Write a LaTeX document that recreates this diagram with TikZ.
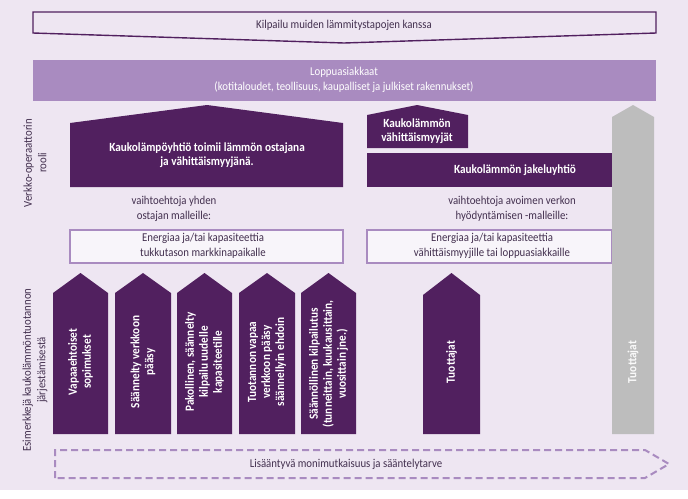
\documentclass[tikz,border=0pt]{standalone}
\usepackage{fontspec}
\setmainfont[FakeStretch=0.9]{Carlito}
\usepackage{xcolor}
\usepackage{tikz}

\definecolor{bgviol}{HTML}{EEE6F2}
\definecolor{dkviol}{HTML}{51205F}
\definecolor{lilac}{HTML}{A98BC0}
\definecolor{txtviol}{HTML}{43304F}
\definecolor{grayarr}{HTML}{BDBDBD}

\begin{document}
\begin{tikzpicture}[x=1pt,y=-1pt,
    lbl/.style={text=txtviol,font=\fontsize{12}{14.5}\selectfont,align=center,inner sep=0pt},
    wlbl/.style={text=white,font=\fontsize{12.5}{14}\selectfont\bfseries,align=center,inner sep=0pt},
    vlbl/.style={wlbl,rotate=90},
    sidelbl/.style={lbl,rotate=90}]
  % Roles of the network operator and ways to organise heat production.

  \useasboundingbox (0,0) rectangle (688,498);
  \fill[bgviol] (0,0) rectangle (688,490);

  % competition banner and end customers
  \draw[dkviol,line width=1.4pt,fill=bgviol] (33,12) -- (656,12) -- (656,33)
    -- (344,43) -- (33,33) -- cycle;
  \node[lbl] (kilpailu) at (344,25) {Kilpailu muiden lämmitystapojen kanssa};

  \fill[lilac] (33,60) rectangle (656,101);
  \node[lbl,text=white] (loppu) at (344,80)
    {Loppuasiakkaat\\(kotitaloudet, teollisuus, kaupalliset ja julkiset rakennukset)};

  % single buyer side
  \fill[dkviol] (70,187) -- (70,123) -- (207,105) -- (343,123) -- (343,187) -- cycle;
  \node[wlbl] (ostaja) at (207,155)
    {Kaukolämpöyhtiö toimii lämmön ostajana\\ja vähittäismyyjänä.};
  \node[lbl] (yksi) at (174,209) {vaihtoehtoja yhden\\ostajan malleille:};
  \draw[lilac,line width=2pt,fill=white!60!bgviol] (70,230) rectangle (343,263);
  \node[lbl] (tukku) at (203,246)
    {Energiaa ja/tai kapasiteettia\\tukkutason markkinapaikalle};

  % open network side
  \fill[dkviol] (367,148) -- (367,115) -- (417,105) -- (468,115) -- (468,148) -- cycle;
  \node[wlbl] (myyjat) at (417,131) {Kaukolämmön\\vähittäismyyjät};
  \fill[dkviol] (367,153) rectangle (612,187);
  \node[wlbl] (jakelu) at (515,170) {Kaukolämmön jakeluyhtiö};
  \node[lbl] (avoin) at (512,209) {vaihtoehtoja avoimen verkon\\hyödyntämisen -malleille:};
  \draw[lilac,line width=2pt,fill=white!60!bgviol] (367,230) rectangle (612,263);
  \node[lbl] (vahittais) at (492,246)
    {Energiaa ja/tai kapasiteettia\\vähittäismyyjille tai loppuasiakkaille};

  % producers arrows
  \fill[dkviol] (53,434) -- (53,293) -- (80.5,273) -- (108,293) -- (108,434) -- cycle;
  \fill[dkviol] (115,434) -- (115,293) -- (143,273) -- (171,293) -- (171,434) -- cycle;
  \fill[dkviol] (177,434) -- (177,293) -- (204.5,273) -- (232,293) -- (232,434) -- cycle;
  \fill[dkviol] (239,434) -- (239,293) -- (267,273) -- (295,293) -- (295,434) -- cycle;
  \fill[dkviol] (301,434) -- (301,293) -- (328.5,273) -- (356,293) -- (356,434) -- cycle;
  \fill[dkviol] (423,434) -- (423,295) -- (451.5,273) -- (480,295) -- (480,434) -- cycle;
  \fill[grayarr] (612,434) -- (612,117) -- (633,105) -- (654,117) -- (654,434) -- cycle;

  \node[vlbl] (vapaa) at (80.5,362) {Vapaaehtoiset\\sopimukset};
  \node[vlbl] (saannelty) at (143,362) {Säännelty verkkoon\\pääsy};
  \node[vlbl] (pakko) at (204.5,362) {Pakollinen, säännelty\\kilpailu uudelle\\kapasiteetille};
  \node[vlbl] (tuotanto) at (267,362) {Tuotannon vapaa\\verkkoon pääsy\\säännellyin ehdoin};
  \node[vlbl] (kilpailutus) at (328.5,364)
    {Säännöllinen kilpailutus\\(tunneittain, kuukausittain,\\vuosittain jne.)};
  \node[vlbl] (tuottajat) at (451.5,362) {Tuottajat};
  \node[vlbl,text=white!92!grayarr] (tuottajat2) at (633,362) {Tuottajat};

  % side labels
  \node[sidelbl] (rooli) at (35,163) {Verkko-operaattorin\\rooli};
  \node[sidelbl] (esim) at (35,370) {Esimerkkejä kaukolämmöntuotannon\\järjestämisestä};

  % growing complexity
  \draw[lilac,line width=2pt,dash pattern=on 7pt off 4pt] (55,478) -- (55,450)
    -- (645,450) -- (669,464) -- (645,478) -- cycle;
  \node[lbl] (kasvu) at (346,464) {Lisääntyvä monimutkaisuus ja sääntelytarve};
\end{tikzpicture}
\end{document}
